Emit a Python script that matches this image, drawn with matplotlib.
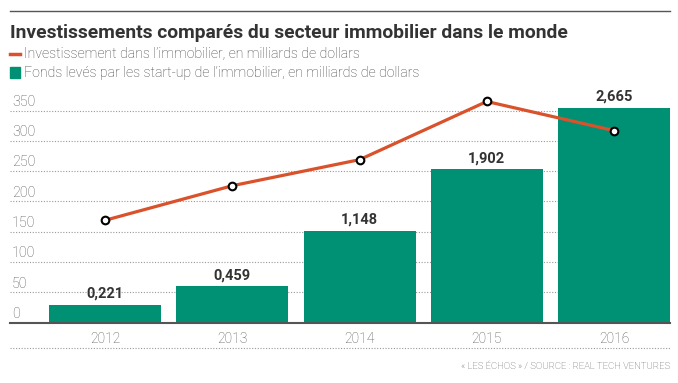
import matplotlib
matplotlib.use("Agg")
import matplotlib.pyplot as plt
from matplotlib.lines import Line2D
from matplotlib.patches import Rectangle

plt.rcParams['font.family'] = ['Roboto', 'DejaVu Sans']

years = ['2012', '2013', '2014', '2015', '2016']
# bar heights as drawn on the 0-350 scale, and their printed labels
fonds_heights = [29, 60, 152, 253, 354]
fonds_labels = ['0,221', '0,459', '1,148', '1,902', '2,665']
investissement = [169, 226, 269, 365, 317]
yticks = [0, 50, 100, 150, 200, 250, 300, 350]

GREEN = '#009174'
ORANGE = '#d9522b'
DARK = '#333333'
GRAY = '#555555'

W, H = 678, 383
fig = plt.figure(figsize=(W / 100, H / 100), dpi=100)

# axes: x from 10px to 670px, y from 92.4px (top) to 322.7px (bottom)
ax = fig.add_axes([10 / W, 1 - 322.7 / H, 660 / W, 230.3 / H])
x = list(range(len(years)))
ax.bar(x, fonds_heights, width=0.88, color=GREEN, zorder=2)
ax.plot(x, investissement, color=ORANGE, lw=2.3, zorder=3,
        marker='o', ms=5.5, mfc='white', mec='black', mew=1.5)

for xi, h, lab in zip(x, fonds_heights, fonds_labels):
    ax.annotate(lab, (xi, h), xytext=(0, 3), textcoords='offset points',
                ha='center', va='bottom', fontsize=10.5, fontweight='bold',
                color=DARK)

ax.set_xlim(-0.747, 4.44)
ax.set_ylim(0, 380)
ax.set_yticks(yticks)
ax.set_yticklabels([])
ax.tick_params(length=0)
ax.set_xticks(x)
ax.set_xticklabels(years, fontsize=10, color=GRAY, fontweight='light')
ax.tick_params(axis='x', pad=7)
for t in yticks:
    if t > 0:
        ax.axhline(t, color='#999999', lw=0.8, ls=(0, (1, 1.5)), zorder=1)
    ax.text(0.003, t + 3, str(t), transform=ax.get_yaxis_transform(),
            ha='left', va='bottom', fontsize=10.3, color=GRAY, fontweight='light')
for s in ['top', 'right', 'left']:
    ax.spines[s].set_visible(False)
ax.spines['bottom'].set_color(GRAY)
ax.spines['bottom'].set_linewidth(1.5)
ax.spines['bottom'].set_zorder(4)

# header
fig.add_artist(Line2D([10 / W, 670 / W], [1 - 11 / H] * 2, color=GRAY, lw=1))
fig.text(10 / W, 1 - 33 / H, 'Investissements comparés du secteur immobilier dans le monde',
         ha='left', va='center', fontsize=13.85, fontweight='bold', color=DARK)
fig.add_artist(Line2D([10 / W, 20 / W], [1 - 54 / H] * 2, color=ORANGE, lw=2.5))
fig.text(24 / W, 1 - 54 / H, "Investissement dans l’immobilier, en milliards de dollars",
         ha='left', va='center', fontsize=10.2, color='#444444', fontweight='light')
fig.add_artist(Rectangle((10 / W, 1 - 78 / H), 10 / W, 11 / H, color=GREEN,
                         transform=fig.transFigure))
fig.text(24 / W, 1 - 72.5 / H, "Fonds levés par les start-up de l’immobilier, en milliards de dollars",
         ha='left', va='center', fontsize=10.2, color='#444444', fontweight='light')

# footer
fig.add_artist(Line2D([10 / W, 670 / W], [1 - 348 / H] * 2, color='#999999', lw=0.8,
                      ls=(0, (1, 1.5))))
fig.text(670 / W, 1 - 366 / H, '« LES ÉCHOS » / SOURCE : REAL TECH VENTURES',
         ha='right', va='center', fontsize=6.8, color=GRAY, fontweight='light')

fig.savefig('out.png', dpi=100)
